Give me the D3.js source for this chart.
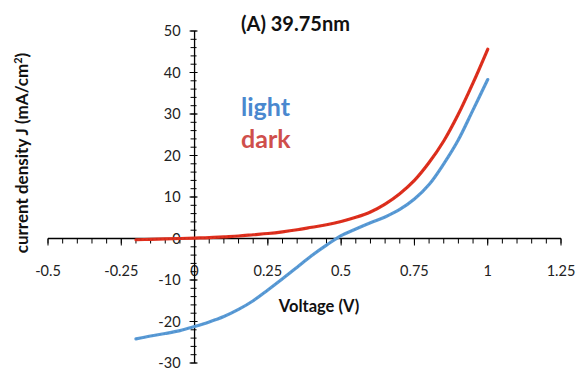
<!DOCTYPE html>
<html>
<head>
<meta charset="utf-8">
<script src="https://cdn.jsdelivr.net/npm/d3@7"></script>
<style>
  body { margin: 0; background: #fff; }
  text { font-family: Lato, 'Open Sans', sans-serif; }
</style>
</head>
<body>
<div id="chart"></div>
<script>
// voltage points (V) shared by both curves
var voltage = [-0.2, -0.15, -0.1, -0.05, 0, 0.05, 0.1, 0.15, 0.2, 0.25, 0.3, 0.35, 0.4,
               0.45, 0.5, 0.55, 0.6, 0.65, 0.7, 0.75, 0.8, 0.85, 0.9, 0.95, 1.0];
// current density J (mA/cm2)
var lightJ = [-24.2, -23.5, -22.9, -22.2, -21.2, -20.1, -18.8, -17.1, -15, -12.4, -9.7, -6.9, -4.1,
              -1.6, 0.7, 2.3, 3.8, 5.2, 7, 9.5, 13, 18, 23.8, 31, 38.3];
var darkJ = [-0.3, -0.2, -0.1, 0, 0.1, 0.2, 0.4, 0.6, 0.9, 1.2, 1.6, 2.1, 2.7,
             3.3, 4.1, 5.1, 6.4, 8.3, 10.8, 14, 18.3, 23.5, 30, 37.5, 45.6];
var xTicks = [-0.5, -0.25, 0, 0.25, 0.5, 0.75, 1, 1.25];
var yTicks = [-30, -20, -10, 0, 10, 20, 30, 40, 50];

var width = 579, height = 371;
var svg = d3.select('#chart').append('svg')
    .attr('width', width)
    .attr('height', height);

var x = d3.scaleLinear().domain([-0.5, 1.25]).range([48, 561]);
var y = d3.scaleLinear().domain([-30, 50]).range([363, 31]);

// x axis through J = 0
var xAxis = svg.append('g').attr('transform', `translate(0,${y(0)})`);
xAxis.append('line')
    .attr('x1', x(-0.5)).attr('x2', x(1.25))
    .attr('stroke', '#000').attr('stroke-width', 1.3);
xAxis.selectAll('.minor')
    .data(d3.range(-0.5, 1.2501, 0.05))
    .enter().append('line')
    .attr('x1', d => x(d)).attr('x2', d => x(d))
    .attr('y1', 0).attr('y2', 5)
    .attr('stroke', '#000');
xAxis.selectAll('.major')
    .data(xTicks)
    .enter().append('line')
    .attr('x1', d => x(d)).attr('x2', d => x(d))
    .attr('y1', 0).attr('y2', 7)
    .attr('stroke', '#000');
xAxis.selectAll('.lbl')
    .data(xTicks)
    .enter().append('text')
    .attr('x', d => x(d))
    .attr('y', 37)
    .attr('text-anchor', 'middle')
    .style('font-size', '14.5px')
    .attr('fill', '#222')
    .text(d => d);

// y axis through V = 0
var yAxis = svg.append('g').attr('transform', `translate(${x(0)},0)`);
yAxis.append('line')
    .attr('y1', y(-30)).attr('y2', y(50))
    .attr('stroke', '#000').attr('stroke-width', 1.3);
yAxis.selectAll('.minor')
    .data(d3.range(-30, 50.01, 2))
    .enter().append('line')
    .attr('x1', -4).attr('x2', 2)
    .attr('y1', d => y(d)).attr('y2', d => y(d))
    .attr('stroke', '#000');
yAxis.selectAll('.major')
    .data(yTicks)
    .enter().append('line')
    .attr('x1', -5).attr('x2', 3)
    .attr('y1', d => y(d)).attr('y2', d => y(d))
    .attr('stroke', '#000');
yAxis.selectAll('.lbl')
    .data(yTicks)
    .enter().append('text')
    .attr('x', -14)
    .attr('y', d => y(d))
    .attr('dy', '0.35em')
    .attr('text-anchor', 'end')
    .style('font-size', '14.5px')
    .attr('fill', '#222')
    .text(d => d);

// curves
var line = d3.line().curve(d3.curveCatmullRom);
function drawCurve(values, color, dotColor) {
    var pts = voltage.map((v, i) => [x(v), y(values[i])]);
    svg.append('path')
        .attr('d', line(pts))
        .attr('fill', 'none')
        .attr('stroke', color)
        .attr('stroke-width', 3.2)
        .attr('stroke-linecap', 'round');
    svg.append('path')
        .attr('d', line(pts))
        .attr('fill', 'none')
        .attr('stroke', dotColor)
        .attr('stroke-width', 1.2)
        .attr('stroke-dasharray', '1.5,2.5')
        .attr('opacity', 0.6);
}
drawCurve(lightJ, '#5B9BD5', '#3f86c8');
drawCurve(darkJ, '#E0301E', '#b8261a');

// title
svg.append('text')
    .attr('x', 241).attr('y', 31)
    .style('font-size', '20px')
    .style('font-weight', 'bold')
    .attr('fill', '#111')
    .text('(A) 39.75nm');

// legend labels
svg.append('text')
    .attr('x', 241).attr('y', 116)
    .style('font-size', '25px')
    .style('font-weight', 'bold')
    .attr('fill', '#4A88CF')
    .text('light');
svg.append('text')
    .attr('x', 241).attr('y', 148)
    .style('font-size', '25px')
    .style('font-weight', 'bold')
    .attr('fill', '#CF4F4C')
    .text('dark');

// axis titles
svg.append('text')
    .attr('x', 319).attr('y', 312)
    .attr('text-anchor', 'middle')
    .style('font-size', '16.5px')
    .style('font-weight', 'bold')
    .attr('fill', '#111')
    .text('Voltage (V)');

svg.append('text')
    .attr('transform', 'translate(28,153)rotate(-90)')
    .attr('text-anchor', 'middle')
    .style('font-size', '17px')
    .style('font-weight', 'bold')
    .attr('fill', '#111')
    .text('current density J (mA/cm')
    .append('tspan')
    .attr('baseline-shift', 'super')
    .style('font-size', '11px')
    .text('2')
    .select(function () { return this.parentNode; })
    .append('tspan')
    .text(')');
</script>
</body>
</html>
